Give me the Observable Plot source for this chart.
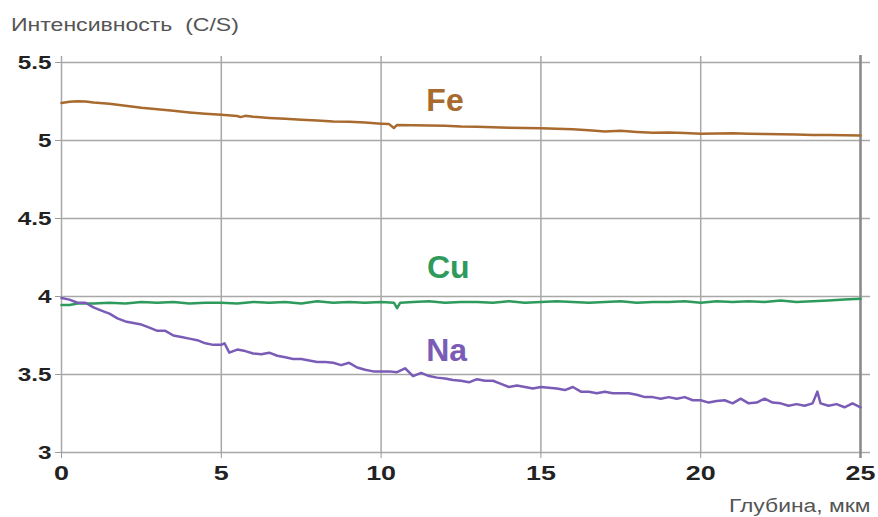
<!DOCTYPE html>
<html>
<head>
<meta charset="utf-8">
<script src="https://cdn.jsdelivr.net/npm/d3@7"></script>
<script src="https://cdn.jsdelivr.net/npm/@observablehq/plot@0.6"></script>
<style>
  html, body { margin: 0; padding: 0; background: #fff; }
  #wrap { position: relative; width: 878px; height: 517px; font-family: "Liberation Sans", Arial, sans-serif; }
  #title { position: absolute; left: 11px; top: 15px; font-size: 18px; color: #555; white-space: pre; transform: scaleX(1.28); transform-origin: left center; }
  #xlabel { position: absolute; right: 8px; top: 496px; font-size: 18px; color: #555; white-space: pre; transform: scaleX(1.27); transform-origin: right center; }
  svg { position: absolute; left: 0; top: 0; }
</style>
</head>
<body>
<div id="wrap">
  <div id="title">Интенсивность  (C/S)</div>
  <div id="xlabel">Глубина, мкм</div>
</div>
<script>
const xTicks = [0, 5, 10, 15, 20, 25];
const yTicks = [3, 3.5, 4, 4.5, 5, 5.5];
const yTickLabels = ["3", "3.5", "4", "4.5", "5", "5.5"];

const feX = [0,0.25,0.5,0.75,1,1.5,2,2.5,3,3.5,4,4.5,5,5.5,5.6,5.75,6,6.5,7,7.5,8,8.5,9,9.5,10,10.25,10.4,10.5,11,11.5,12,12.5,13,13.5,14,14.5,15,15.5,16,16.5,17,17.5,18,18.5,19,19.5,20,20.5,21,21.5,22,22.5,23,23.5,24,24.5,25];
const feY = [5.24,5.248,5.252,5.25,5.243,5.235,5.223,5.21,5.2,5.19,5.18,5.172,5.165,5.157,5.15,5.158,5.152,5.145,5.14,5.133,5.128,5.122,5.12,5.115,5.108,5.105,5.08,5.1,5.098,5.096,5.095,5.09,5.088,5.085,5.082,5.08,5.078,5.075,5.072,5.065,5.057,5.062,5.055,5.05,5.052,5.048,5.044,5.045,5.046,5.044,5.042,5.04,5.038,5.036,5.035,5.033,5.032];

const cuX = [0,0.25,0.5,1,1.5,2,2.5,3,3.5,4,4.5,5,5.5,6,6.5,7,7.5,8,8.5,9,9.5,10,10.4,10.5,10.6,11,11.5,12,12.5,13,13.5,14,14.5,15,15.5,16,16.5,17,17.5,18,18.5,19,19.5,20,20.5,21,21.5,22,22.5,23,23.5,24,24.5,25];
const cuY = [3.945,3.945,3.955,3.955,3.96,3.955,3.965,3.96,3.965,3.955,3.96,3.96,3.955,3.965,3.96,3.965,3.955,3.97,3.96,3.965,3.96,3.965,3.96,3.925,3.96,3.965,3.97,3.96,3.965,3.965,3.96,3.97,3.96,3.965,3.97,3.965,3.96,3.965,3.97,3.96,3.965,3.965,3.97,3.96,3.97,3.965,3.97,3.965,3.975,3.965,3.97,3.975,3.98,3.985];

const naX = [0,0.25,0.5,0.75,1,1.25,1.5,1.75,2,2.25,2.5,2.75,3,3.25,3.5,3.75,4,4.25,4.5,4.75,5,5.1,5.25,5.5,5.75,6,6.25,6.5,6.75,7,7.25,7.5,7.75,8,8.25,8.5,8.75,9,9.25,9.5,9.75,10,10.25,10.5,10.75,11,11.25,11.5,11.75,12,12.25,12.5,12.75,13,13.25,13.5,13.75,14,14.25,14.5,14.75,15,15.25,15.5,15.75,16,16.25,16.5,16.75,17,17.25,17.5,17.75,18,18.25,18.5,18.75,19,19.25,19.5,19.75,20,20.25,20.5,20.75,21,21.25,21.5,21.75,22,22.25,22.5,22.75,23,23.25,23.5,23.65,23.75,24,24.25,24.5,24.75,25];
const naY = [3.99,3.98,3.96,3.96,3.93,3.91,3.89,3.86,3.84,3.83,3.82,3.8,3.78,3.78,3.75,3.74,3.73,3.72,3.7,3.69,3.69,3.7,3.64,3.66,3.65,3.635,3.63,3.64,3.62,3.61,3.6,3.6,3.59,3.58,3.58,3.575,3.56,3.575,3.545,3.53,3.52,3.52,3.52,3.515,3.54,3.49,3.51,3.49,3.48,3.475,3.465,3.46,3.45,3.47,3.46,3.46,3.44,3.42,3.43,3.42,3.41,3.42,3.415,3.41,3.4,3.42,3.39,3.39,3.38,3.39,3.38,3.38,3.38,3.37,3.355,3.355,3.345,3.355,3.345,3.355,3.335,3.335,3.32,3.33,3.335,3.315,3.345,3.315,3.32,3.345,3.32,3.315,3.3,3.31,3.3,3.315,3.39,3.315,3.3,3.31,3.29,3.315,3.29];

const series = [
  {name: "Fe", xs: feX, ys: feY, color: "#a86a2e", lx: 12.0, ly: 5.255},
  {name: "Cu", xs: cuX, ys: cuY, color: "#2e9a5c", lx: 12.1, ly: 4.185},
  {name: "Na", xs: naX, ys: naY, color: "#7a5cb6", lx: 12.05, ly: 3.655}
];

const rows = series.flatMap(s => s.xs.map((x, i) => ({x, y: s.ys[i], name: s.name})));
const labels = series.map(s => ({x: s.lx, y: s.ly, name: s.name}));
const colorMap = Object.fromEntries(series.map(s => [s.name, s.color]));

const chart = Plot.plot({
  width: 878,
  height: 517,
  marginLeft: 61,
  marginRight: 18,
  marginTop: 62,
  marginBottom: 65,
  style: {fontFamily: "'Liberation Sans', Arial, sans-serif", background: "transparent", overflow: "visible"},
  x: {domain: [0, 25]},
  y: {domain: [3, 5.5]},
  marks: [
    Plot.ruleX(xTicks, {stroke: "#a8a8a8", strokeWidth: 1.5, insetTop: -6}),
    Plot.ruleY(yTicks, {stroke: "#a8a8a8", strokeWidth: 1.5, insetRight: -10}),
    Plot.axisX(xTicks, {tickSize: 6, tickPadding: 7, stroke: "#999", fill: "#222", fontSize: 21, fontWeight: "bold", label: null}),
    Plot.axisY(yTicks, {tickSize: 6, tickPadding: 4, stroke: "#999", fill: "#222", fontSize: 19, fontWeight: "bold", label: null, tickFormat: (d) => yTickLabels[yTicks.indexOf(d)]}),
    Plot.ruleX([25], {stroke: "#8a8a8a", strokeWidth: 2.5, insetTop: -7, insetBottom: -6}),
    Plot.lineY(rows, {x: "x", y: "y", z: "name", stroke: (d) => colorMap[d.name], strokeWidth: 2.5, curve: "linear"}),
    Plot.text(labels, {x: "x", y: "y", text: "name", fill: (d) => colorMap[d.name], fontSize: 32, fontWeight: "bold", textAnchor: "middle"})
  ]
});

// horizontal stretch of tick labels, as in the reference
d3.select(chart).selectAll('g[aria-label="x-axis tick label"] text, g[aria-label="y-axis tick label"] text').each(function() {
  const t = this.getAttribute("transform") || "";
  const x = +(this.getAttribute("x") || 0);
  this.setAttribute("transform", `${t} translate(${x},0) scale(1.28,1) translate(${-x},0)`);
});

document.getElementById("wrap").prepend(chart);
</script>
</body>
</html>
